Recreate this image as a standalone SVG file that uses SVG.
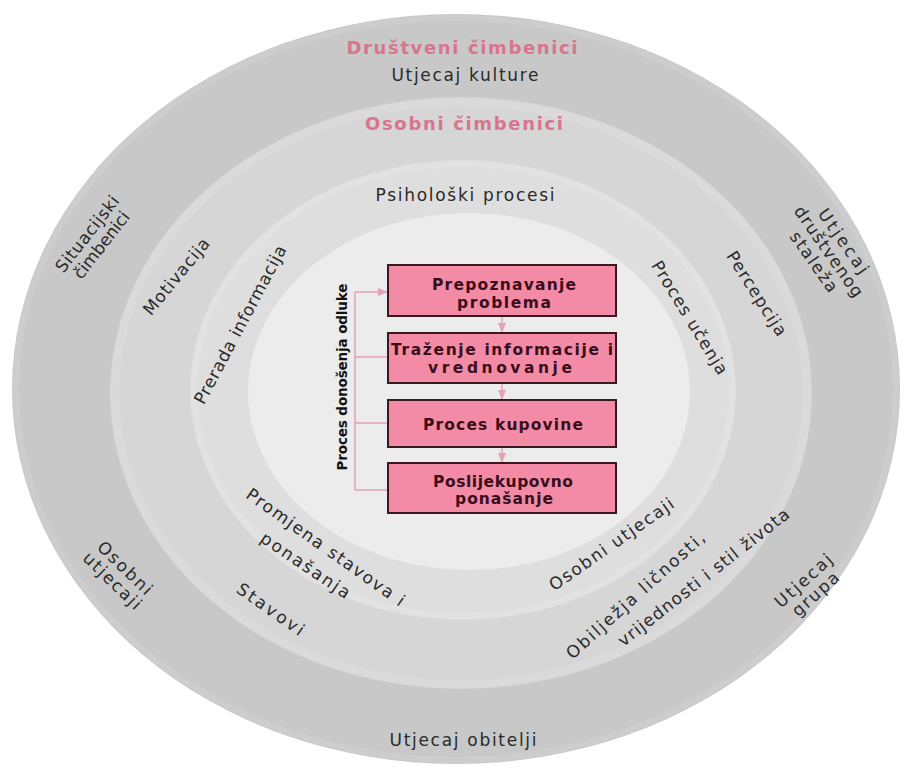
<svg xmlns="http://www.w3.org/2000/svg" width="907" height="770" viewBox="0 0 907 770">
<defs>
<style>
.lbl{font-family:"DejaVu Sans",Verdana,sans-serif;font-size:17px;fill:#2a2a2a;text-anchor:middle}
.ttl{font-family:"DejaVu Sans",Verdana,sans-serif;font-weight:bold;font-size:18px;fill:#d9748f;text-anchor:middle}
.box{fill:#f48ba6;stroke:#3a1820;stroke-width:2}
.bt{font-family:"DejaVu Sans",Verdana,sans-serif;font-weight:bold;font-size:15.5px;fill:#3a0d1a;text-anchor:middle}
.vt{font-family:"DejaVu Sans",Verdana,sans-serif;font-weight:bold;font-size:13.5px;fill:#111;text-anchor:middle}
.con{fill:none;stroke:#e3a3b6;stroke-width:1.5}
</style>
<marker id="ah" viewBox="0 0 10 10" refX="9" refY="5" markerWidth="7" markerHeight="7" orient="auto">
<path d="M0,1 L10,5 L0,9 z" fill="#e3a3b6"/>
</marker>
</defs>
<rect width="907" height="770" fill="#ffffff"/>
<g id="rings">
<ellipse cx="456" cy="389" rx="444" ry="375" fill="#c8c8c8"/>
<ellipse cx="456" cy="389" rx="440" ry="371" fill="none" stroke="#cdcdcd" stroke-width="6"/>
<ellipse cx="461" cy="393" rx="351" ry="296" fill="#d6d6d6"/>
<ellipse cx="461" cy="393" rx="346" ry="291" fill="none" stroke="#dadada" stroke-width="8"/>
<ellipse cx="463" cy="390" rx="273" ry="230" fill="#dedede"/>
<ellipse cx="463" cy="390" rx="269" ry="226" fill="none" stroke="#e2e2e2" stroke-width="6"/>
<ellipse cx="469" cy="391.5" rx="221" ry="178.5" fill="#ececec"/>
</g>
<g id="outer-labels">
<text class="ttl" x="462" y="54" textLength="231">Društveni čimbenici</text>
<text class="lbl" x="465" y="81" textLength="147">Utjecaj kulture</text>
<text class="lbl" x="463" y="746" textLength="147">Utjecaj obitelji</text>
<g transform="translate(95,240) rotate(-52)">
<text class="lbl" x="0" y="-4" textLength="92">Situacijski</text>
<text class="lbl" x="0" y="14" textLength="80">čimbenici</text>
</g>
<g transform="translate(828,252) rotate(55)">
<text class="lbl" x="0" y="-13" textLength="75">Utjecaj</text>
<text class="lbl" x="0" y="5" textLength="107">društvenog</text>
<text class="lbl" x="0" y="23" textLength="70">staleža</text>
</g>
<g transform="translate(118,575) rotate(44)">
<text class="lbl" x="0" y="-4" textLength="69">Osobni</text>
<text class="lbl" x="0" y="14" textLength="74">utjecaji</text>
</g>
<g transform="translate(810,588) rotate(-42)">
<text class="lbl" x="0" y="-4" textLength="71">Utjecaj</text>
<text class="lbl" x="0" y="14" textLength="57">grupa</text>
</g>
</g>
<g id="personal-labels">
<text class="ttl" x="464" y="130" textLength="198">Osobni čimbenici</text>
<text class="lbl" transform="translate(177,277) rotate(-50.5)" y="5" textLength="94">Motivacija</text>
<text class="lbl" transform="translate(756,294) rotate(57.6)" y="5" textLength="97">Percepcija</text>
<text class="lbl" transform="translate(270,610) rotate(35)" y="5" textLength="78">Stavovi</text>
<text class="lbl" transform="translate(636,596) rotate(-42)" y="5" textLength="180">Obilježja ličnosti,</text>
<text class="lbl" transform="translate(704,578) rotate(-38)" y="5" textLength="212">vrijednosti i stil života</text>
</g>
<g id="psych-labels">
<text class="lbl" x="465" y="201" textLength="179">Psihološki procesi</text>
<text class="lbl" transform="translate(241,325) rotate(-62)" y="5" textLength="177">Prerada informacija</text>
<text class="lbl" transform="translate(689,318) rotate(58.5)" y="5" textLength="130">Proces učenja</text>
<text class="lbl" transform="translate(325,548) rotate(35.4)" y="5" textLength="190">Promjena stavova i</text>
<text class="lbl" transform="translate(305,566) rotate(34)" y="5" textLength="104">ponašanja</text>
<text class="lbl" transform="translate(612,545) rotate(-35)" y="5" textLength="148">Osobni utjecaji</text>
</g>
<g id="connectors">
<path class="con" d="M355,292 V490 M355,357 H388 M355,423 H388 M355,490 H388"/>
<path class="con" d="M355,292 H387" marker-end="url(#ah)"/>
<path class="con" d="M502,317 V332" marker-end="url(#ah)"/>
<path class="con" d="M502,384 V399" marker-end="url(#ah)"/>
<path class="con" d="M502,448 V462" marker-end="url(#ah)"/>
</g>
<text class="vt" transform="translate(342,377) rotate(-90)" y="5" textLength="187">Proces donošenja odluke</text>
<g id="n1"><rect class="box" x="388" y="265" width="228" height="51"/>
<text class="bt" x="504" y="290" textLength="144">Prepoznavanje</text>
<text class="bt" x="504" y="308" textLength="94">problema</text></g>
<g id="n2"><rect class="box" x="388" y="333" width="228" height="50"/>
<text class="bt" x="502" y="355" textLength="222">Traženje informacije i</text>
<text class="bt" x="500" y="373" textLength="144">vrednovanje</text></g>
<g id="n3"><rect class="box" x="388" y="400" width="228" height="47"/>
<text class="bt" x="503" y="430" textLength="160">Proces kupovine</text></g>
<g id="n4"><rect class="box" x="388" y="463" width="228" height="50"/>
<text class="bt" x="503" y="487" textLength="140">Poslijekupovno</text>
<text class="bt" x="504" y="504" textLength="98">ponašanje</text></g>
</svg>
